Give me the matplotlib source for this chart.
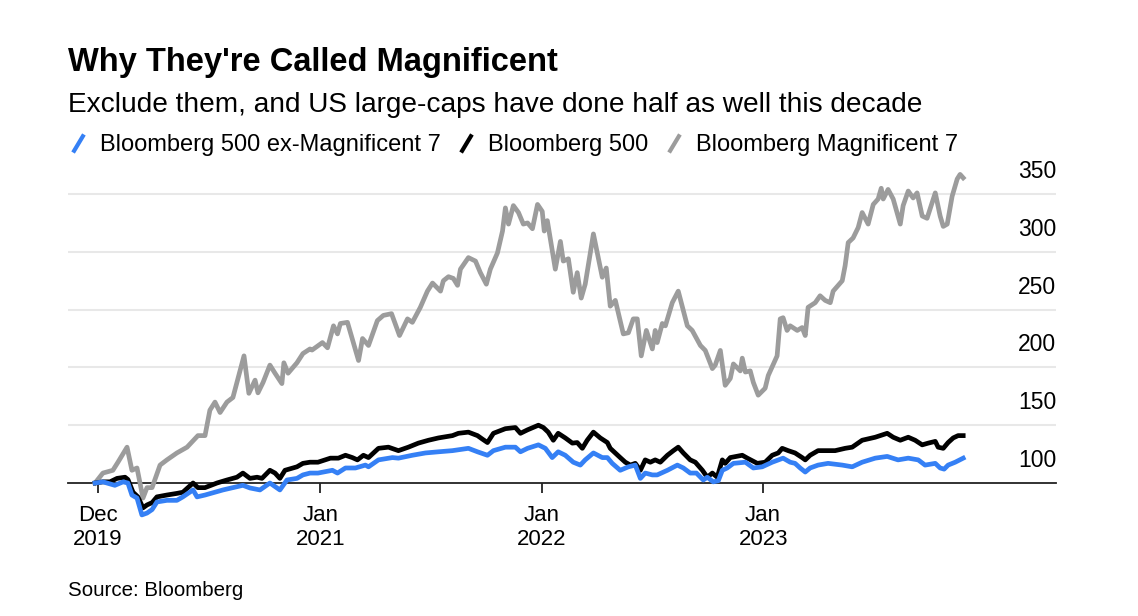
import matplotlib
matplotlib.use("Agg")
import matplotlib.pyplot as plt
from matplotlib.lines import Line2D
import pandas as pd

plt.rcParams['font.family'] = ['Liberation Sans', 'DejaVu Sans']

# Datos (tiempo en años decimales, índice base 100)
gray_t = [2019.984, 2020.020, 2020.065, 2020.088, 2020.129, 2020.151, 2020.174, 2020.201, 2020.219, 2020.242,
          2020.278, 2020.309, 2020.354, 2020.400, 2020.449, 2020.481, 2020.503, 2020.526, 2020.549, 2020.580,
          2020.607, 2020.657, 2020.679, 2020.707, 2020.720, 2020.743, 2020.774, 2020.797, 2020.828, 2020.837,
          2020.856, 2020.896, 2020.923, 2020.955, 2020.964, 2021.009, 2021.032, 2021.059, 2021.077, 2021.090,
          2021.122, 2021.149, 2021.172, 2021.190, 2021.217, 2021.257, 2021.284, 2021.321, 2021.357, 2021.393,
          2021.415, 2021.451, 2021.483, 2021.506, 2021.542, 2021.555, 2021.578, 2021.600, 2021.619, 2021.632,
          2021.668, 2021.700, 2021.722, 2021.749, 2021.767, 2021.799, 2021.822, 2021.835, 2021.849, 2021.871,
          2021.894, 2021.916, 2021.935, 2021.957, 2021.980, 2022.002, 2022.011, 2022.025, 2022.061, 2022.084,
          2022.097, 2022.120, 2022.142, 2022.160, 2022.178, 2022.196, 2022.233, 2022.273, 2022.291, 2022.309,
          2022.332, 2022.368, 2022.391, 2022.413, 2022.431, 2022.449, 2022.472, 2022.499, 2022.512, 2022.521,
          2022.544, 2022.558, 2022.589, 2022.616, 2022.657, 2022.679, 2022.716, 2022.738, 2022.770, 2022.783,
          2022.806, 2022.828, 2022.851, 2022.865, 2022.896, 2022.905, 2022.919, 2022.941, 2022.955, 2022.977,
          2023.009, 2023.023, 2023.063, 2023.077, 2023.090, 2023.108, 2023.122, 2023.154, 2023.176, 2023.190,
          2023.203, 2023.235, 2023.257, 2023.280, 2023.303, 2023.316, 2023.357, 2023.370, 2023.384, 2023.406,
          2023.429, 2023.447, 2023.474, 2023.497, 2023.519, 2023.533, 2023.542, 2023.564, 2023.587, 2023.619,
          2023.632, 2023.655, 2023.677, 2023.695, 2023.718, 2023.740, 2023.777, 2023.799, 2023.813, 2023.831,
          2023.853, 2023.876, 2023.889, 2023.903]
gray_v = [100, 108.6, 111, 118, 131, 111, 113, 87, 96, 96,
          115.5, 120, 126, 131, 141, 141, 163, 170, 161, 170,
          174, 210, 177.6, 189, 178, 187, 202, 195, 186, 204,
          195, 204, 212, 216, 215, 221.5, 217, 236, 229, 238,
          239, 221, 206, 225, 219, 240.5, 245, 246.5, 227.6, 242,
          239, 252, 266, 273, 266, 275, 278.5, 277, 271, 285,
          295, 292, 282, 272, 285, 299, 318, 338, 324, 340,
          334, 324, 325, 320, 341, 335, 318, 327, 285, 309,
          292, 294, 265, 282, 260, 272, 315.5, 278, 286, 253,
          258, 229, 230, 242, 242, 210, 232, 216, 232, 221.5,
          238, 236, 256, 266, 236, 232, 219, 214.7, 199, 202,
          214.7, 184.5, 190.5, 203, 197, 208, 196, 197, 187, 176,
          182, 193, 210, 242, 243, 232, 236, 232, 234.5, 227.6,
          252, 256, 262, 258, 256, 266, 275, 288, 308, 312,
          321, 334, 324, 341, 345.7, 355, 345.7, 354, 345.7, 324,
          340, 352.6, 346.6, 351, 331, 329, 351, 331, 322, 324,
          348, 363, 367, 364]

black_t = [2019.984, 2020.020, 2020.052, 2020.084, 2020.120, 2020.133, 2020.156, 2020.178, 2020.201, 2020.219,
           2020.242, 2020.264, 2020.309, 2020.354, 2020.381, 2020.427, 2020.449, 2020.481, 2020.535, 2020.580,
           2020.625, 2020.652, 2020.684, 2020.716, 2020.738, 2020.774, 2020.797, 2020.819, 2020.842, 2020.896,
           2020.923, 2020.955, 2020.991, 2021.045, 2021.081, 2021.113, 2021.144, 2021.167, 2021.194, 2021.217,
           2021.262, 2021.307, 2021.352, 2021.397, 2021.442, 2021.488, 2021.533, 2021.596, 2021.623, 2021.668,
           2021.709, 2021.731, 2021.754, 2021.781, 2021.835, 2021.880, 2021.903, 2021.935, 2021.984, 2022.007,
           2022.029, 2022.052, 2022.074, 2022.106, 2022.138, 2022.160, 2022.183, 2022.205, 2022.233, 2022.264,
           2022.296, 2022.309, 2022.354, 2022.377, 2022.400, 2022.422, 2022.445, 2022.467, 2022.490, 2022.512,
           2022.535, 2022.567, 2022.594, 2022.616, 2022.639, 2022.670, 2022.693, 2022.725, 2022.747, 2022.770,
           2022.792, 2022.815, 2022.828, 2022.851, 2022.905, 2022.928, 2022.973, 2023.009, 2023.041, 2023.068,
           2023.086, 2023.113, 2023.144, 2023.176, 2023.190, 2023.212, 2023.248, 2023.325, 2023.370, 2023.402,
           2023.447, 2023.506, 2023.560, 2023.587, 2023.619, 2023.655, 2023.686, 2023.718, 2023.745, 2023.777,
           2023.790, 2023.813, 2023.835, 2023.858, 2023.880, 2023.903]
black_v = [100, 101, 101, 104, 105, 103, 92, 88, 78.5, 81,
           83, 88, 89.6, 91, 92, 100, 96, 96, 100, 102.6,
           105, 108.6, 104, 105, 104, 111, 108.6, 104, 111, 114,
           117, 118, 118, 121.5, 121.5, 124, 122, 120, 124, 122,
           130, 131, 128, 131, 134.5, 137, 139, 141, 143, 144,
           141, 138, 135, 143, 147, 148, 143, 146, 150, 148,
           144, 137, 143, 139, 134.5, 135, 130, 137, 144, 139,
           135, 130, 122, 118, 115.5, 117, 111, 120, 118, 120,
           118, 124, 128, 131, 126, 120, 118, 111, 105, 108.6,
           105, 120, 117, 122, 124, 121.5, 117, 118, 124, 126,
           130, 128, 126, 122, 120, 124, 128, 128, 130, 131,
           137, 139.6, 143, 139.6, 137, 139.6, 137, 133, 134.5, 136,
           131, 130, 135, 139, 141, 141]

blue_t = [2019.984, 2020.020, 2020.074, 2020.111, 2020.133, 2020.151, 2020.174, 2020.196, 2020.219, 2020.242,
          2020.264, 2020.309, 2020.354, 2020.381, 2020.427, 2020.445, 2020.481, 2020.562, 2020.652, 2020.684,
          2020.729, 2020.774, 2020.819, 2020.851, 2020.896, 2020.923, 2020.955, 2020.991, 2021.054, 2021.077,
          2021.113, 2021.158, 2021.203, 2021.217, 2021.262, 2021.325, 2021.352, 2021.415, 2021.474, 2021.533,
          2021.596, 2021.668, 2021.709, 2021.754, 2021.781, 2021.835, 2021.880, 2021.903, 2021.935, 2021.984,
          2022.016, 2022.047, 2022.074, 2022.106, 2022.142, 2022.174, 2022.196, 2022.233, 2022.273, 2022.296,
          2022.318, 2022.354, 2022.391, 2022.422, 2022.445, 2022.467, 2022.499, 2022.521, 2022.567, 2022.612,
          2022.639, 2022.670, 2022.698, 2022.729, 2022.747, 2022.774, 2022.797, 2022.815, 2022.837, 2022.865,
          2022.919, 2022.955, 2022.995, 2023.041, 2023.090, 2023.122, 2023.144, 2023.167, 2023.190, 2023.212,
          2023.248, 2023.293, 2023.357, 2023.402, 2023.447, 2023.506, 2023.560, 2023.609, 2023.655, 2023.700,
          2023.731, 2023.777, 2023.799, 2023.817, 2023.835, 2023.867, 2023.903]
blue_v = [100, 101, 98, 101, 100, 89.6, 87, 72.4, 74, 77,
          83.6, 85, 85, 88, 94, 88, 89.6, 94, 98, 95.7,
          94, 100, 94, 102.6, 104, 107, 108.6, 108.6, 111, 108.6,
          113, 113, 115.5, 114, 120, 122, 121.5, 124, 126, 127,
          128, 130, 127, 124, 128, 131, 131, 127, 130, 133,
          130, 122, 127, 124, 118, 115.5, 120, 126, 122, 122,
          117, 111, 114, 115.5, 104, 108.6, 107, 107, 111, 115.5,
          113, 108.6, 108.6, 102.6, 105, 101, 102, 111, 113, 117,
          118, 113, 114, 118, 121.5, 118, 117, 113, 109.5, 113,
          115.5, 117, 115.5, 114, 118, 121.5, 123, 120, 121.5, 120,
          115.5, 117, 113, 112, 115.5, 118, 121.5]

y_ticks = [100, 150, 200, 250, 300, 350]
x_tick_years = [2019.997, 2021.0, 2022.0, 2023.0]
x_tick_labels = ["Dec\n2019", "Jan\n2021", "Jan\n2022", "Jan\n2023"]


def to_dates(years):
    return [pd.Timestamp(int(y), 1, 1) + pd.Timedelta(days=(y - int(y)) * 365.25) for y in years]


BLUE = "#3580f5"
GRAY = "#9c9c9c"

fig = plt.figure(figsize=(11.38, 6.16), dpi=100)
ax = fig.add_axes([0.0598, 0.2159, 0.8682, 0.513])

ax.plot(to_dates(gray_t), gray_v, color=GRAY, linewidth=3.4, clip_on=False, solid_joinstyle="round", zorder=3)
ax.plot(to_dates(black_t), black_v, color="black", linewidth=3.4, clip_on=False, solid_joinstyle="round", zorder=4)
ax.plot(to_dates(blue_t), blue_v, color=BLUE, linewidth=3.4, clip_on=False, solid_joinstyle="round", zorder=5)

ax.set_xlim(to_dates([2019.862, 2024.323]))
ax.set_ylim(100, 373.4)

# líneas de la cuadrícula y etiquetas del eje y
for v in y_ticks[1:]:
    ax.axhline(v, color="#e8e8e8", linewidth=1.5, zorder=1)
for v in y_ticks:
    ax.annotate(str(v), xy=(1.0, v), xycoords=ax.get_yaxis_transform(),
                xytext=(0, 8), textcoords="offset points",
                ha="right", va="bottom", fontsize=16.5)

for s in ["top", "right", "left"]:
    ax.spines[s].set_visible(False)
ax.spines["bottom"].set_color("#222222")
ax.spines["bottom"].set_linewidth(1.3)
ax.spines["bottom"].set_zorder(2)
ax.set_yticks([])
ax.set_xticks(to_dates(x_tick_years))
ax.set_xticklabels(x_tick_labels, fontsize=16)
ax.tick_params(axis="x", length=7, width=1.3, color="#222222", pad=9)

# títulos
fig.text(68 / 1138, 1 - 62 / 616, "Why They're Called Magnificent", fontsize=23.5,
         fontweight="bold", va="center", ha="left")
fig.text(68 / 1138, 1 - 105 / 616, "Exclude them, and US large-caps have done half as well this decade",
         fontsize=20.2, va="center", ha="left")
fig.text(68 / 1138, 1 - 590 / 616, "Source: Bloomberg", fontsize=14.8, va="center", ha="left")

# leyenda
slash = [(-0.6, -1), (0.6, 1)]
handles = [Line2D([], [], linestyle="none", marker=slash, markersize=13, markeredgewidth=3, color=c)
           for c in [BLUE, "black", GRAY]]
labels = ["Bloomberg 500 ex-Magnificent 7", "Bloomberg 500", "Bloomberg Magnificent 7"]
fig.legend(handles, labels, loc="center left", bbox_to_anchor=(70 / 1138, 1 - 145 / 616),
           ncol=3, frameon=False, fontsize=17, handlelength=0.7, handletextpad=0.58,
           columnspacing=0.72, borderpad=0, borderaxespad=0)

fig.savefig("out.png", dpi=100)
